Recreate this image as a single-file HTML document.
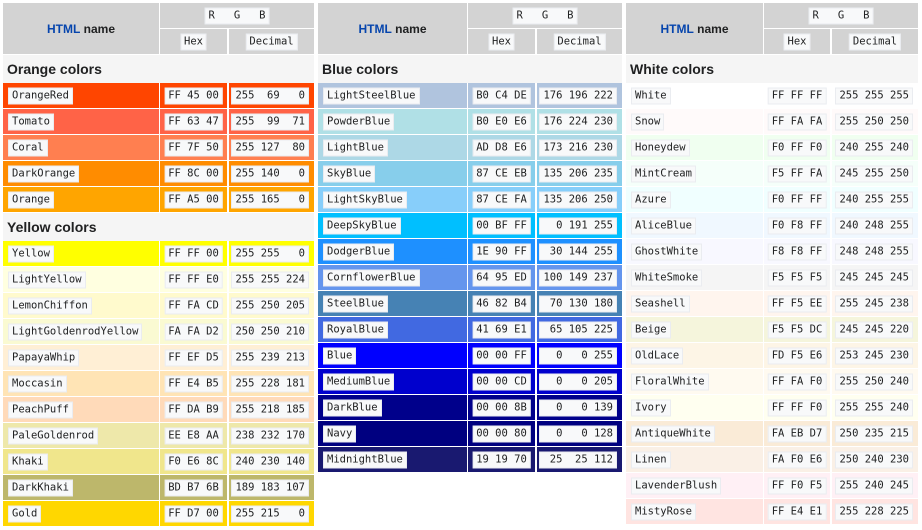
<!DOCTYPE html>
<html><head><meta charset="utf-8">
<style>
body{margin:0;width:922px;height:530px;background:#fff;position:relative;overflow:hidden;font-family:"Liberation Sans",sans-serif}
.c{position:absolute;box-sizing:border-box}
.b{position:absolute;top:50%;transform:translateY(-50%);background:#f8f9fa;border:1px solid #eaecf0;font-family:"DejaVu Sans Mono","Liberation Mono",monospace;font-size:10.5px;color:#202122;padding:1px 3px;white-space:pre;line-height:13px}
.t{font-weight:bold;font-size:14px;color:#202122;padding-left:4px;display:flex;align-items:center}
.h{background:#d3d3d3}
</style></head><body>
<script>
const tables=[
 {x:3,w:[156,67,85],secs:[
  ["Orange colors",[["OrangeRed","FF4500"],["Tomato","FF6347"],["Coral","FF7F50"],["DarkOrange","FF8C00"],["Orange","FFA500"]]],
  ["Yellow colors",[["Yellow","FFFF00"],["LightYellow","FFFFE0"],["LemonChiffon","FFFACD"],["LightGoldenrodYellow","FAFAD2"],["PapayaWhip","FFEFD5"],["Moccasin","FFE4B5"],["PeachPuff","FFDAB9"],["PaleGoldenrod","EEE8AA"],["Khaki","F0E68C"],["DarkKhaki","BDB76B"],["Gold","FFD700"]]]]},
 {x:318,w:[149,67,85],secs:[
  ["Blue colors",[["LightSteelBlue","B0C4DE"],["PowderBlue","B0E0E6"],["LightBlue","ADD8E6"],["SkyBlue","87CEEB"],["LightSkyBlue","87CEFA"],["DeepSkyBlue","00BFFF"],["DodgerBlue","1E90FF"],["CornflowerBlue","6495ED"],["SteelBlue","4682B4"],["RoyalBlue","4169E1"],["Blue","0000FF"],["MediumBlue","0000CD"],["DarkBlue","00008B"],["Navy","000080"],["MidnightBlue","191970"]]]]},
 {x:626,w:[137,66,86],secs:[
  ["White colors",[["White","FFFFFF"],["Snow","FFFAFA"],["Honeydew","F0FFF0"],["MintCream","F5FFFA"],["Azure","F0FFFF"],["AliceBlue","F0F8FF"],["GhostWhite","F8F8FF"],["WhiteSmoke","F5F5F5"],["Seashell","FFF5EE"],["Beige","F5F5DC"],["OldLace","FDF5E6"],["FloralWhite","FFFAF0"],["Ivory","FFFFF0"],["AntiqueWhite","FAEBD7"],["Linen","FAF0E6"],["LavenderBlush","FFF0F5"],["MistyRose","FFE4E1"]]]]}
];
function cell(x,y,w,h,bg,name){const d=document.createElement('div');d.className='c';d.style.cssText+=`left:${x}px;top:${y}px;width:${w}px;height:${h}px;background:${bg}`;


document.body.appendChild(d);return d}
function box(p,txt,pos,name){const s=document.createElement('span');s.className='b';s.textContent=txt;
if(pos==='l')s.style.left='5px';else if(pos==='r')s.style.right='5px';else{s.style.left='50%';s.style.transform='translate(-50%,-50%)';}


p.appendChild(s);return s}
tables.forEach((T,ti)=>{
 const [w0,w1,w2]=T.w, x0=T.x,x1=x0+w0+1,x2=x1+w1+2, tw=w0+w1+w2+3;
 const hn=cell(x0,3,w0,51,'#d3d3d3','html-name-header');
 hn.style.cssText+='display:flex;align-items:center;justify-content:center;font-weight:bold;font-size:12px;color:#202122';
 hn.innerHTML='<span style="color:#0645ad">HTML</span>&nbsp;name';
 const rg=cell(x1,3,w1+w2+2,25,'#d3d3d3','rgb-header');box(rg,'R   G   B','c','rgb-label');
 const hx=cell(x1,29,w1,25,'#d3d3d3','hex-header');box(hx,'Hex','c','hex-label');
 const dc=cell(x2,29,w2,25,'#d3d3d3','decimal-header');box(dc,'Decimal','c','decimal-label');
 let y=55;
 T.secs.forEach(([title,rows])=>{
  const t=cell(x0,y,tw,28,'#f5f5f5','section-title');t.classList.add('t');t.textContent=title;y+=28;
  rows.forEach(([n,h])=>{
   const bg='#'+h, slug=n.toLowerCase();
   box(cell(x0,y,w0,25,bg,slug+'-name-cell'),n,'l','color-name');
   box(cell(x1,y,w1,25,bg,slug+'-hex-cell'),h.slice(0,2)+' '+h.slice(2,4)+' '+h.slice(4),'c','hex-value');
   const dec=[0,2,4].map(i=>String(parseInt(h.substr(i,2),16)).padStart(3,' ')).join(' ');
   box(cell(x2,y,w2,25,bg,slug+'-decimal-cell'),dec,'r','decimal-value');
   y+=26;
  });
 });
});
</script>
</body></html>
